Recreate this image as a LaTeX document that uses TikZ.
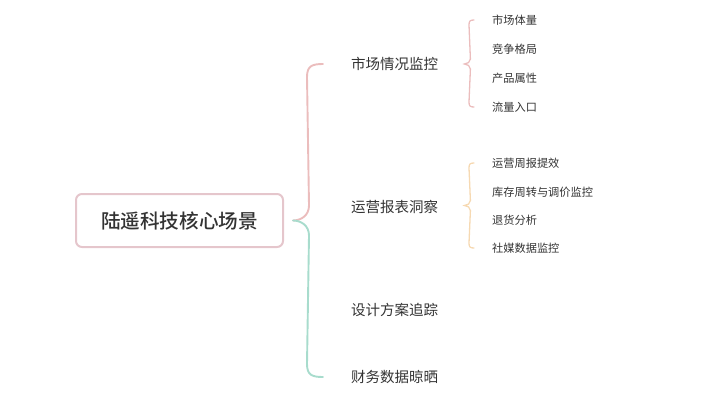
\documentclass[tikz,border=0pt]{standalone}
\usepackage{fontspec}
\newfontfamily\cjk{Noto Sans CJK SC}
\newfontfamily\cjkmed{Noto Sans CJK SC Medium}
\usetikzlibrary{calc}
\definecolor{txt}{HTML}{333333}
\definecolor{rootb}{HTML}{E5C6CC}
\definecolor{pinkb}{HTML}{EBBDBD}
\definecolor{greenb}{HTML}{A8DCCD}
\definecolor{orangeb}{HTML}{F6D9B2}
\tikzset{
  rootbox/.style={draw=rootb, line width=2pt, rounded corners=6pt, minimum width=207pt, minimum height=53pt, inner sep=0pt, text=txt, font=\cjkmed\fontsize{19.6}{22}\selectfont},
  lvone/.style={anchor=west, inner sep=0pt, text=txt, font=\cjk\fontsize{14.5}{17}\selectfont},
  leaf/.style={anchor=west, inner sep=0pt, text=txt, font=\cjk\fontsize{11.2}{13}\selectfont},
  mainbrace/.style={line width=1.9pt, line cap=round},
  subbrace/.style={line width=1.3pt, line cap=round},
}
\begin{document}
\begin{tikzpicture}[x=1pt, y=-1pt]
\useasboundingbox (0,0) rectangle (706,418);
\node[rootbox] (root) at (179.5,220.5) {陆遥科技核心场景};
\node[lvone] (a) at (351,64) {市场情况监控};
\node[lvone] (b) at (351,207) {运营报表洞察};
\node[lvone] (c) at (351,310) {设计方案追踪};
\node[lvone] (d) at (351,377) {财务数据晾晒};
\node[leaf] (a1) at (492,20) {市场体量};
\node[leaf] (a2) at (492,49) {竞争格局};
\node[leaf] (a3) at (492,78) {产品属性};
\node[leaf] (a4) at (492,107) {流量入口};
\node[leaf] (b1) at (492,163) {运营周报提效};
\node[leaf] (b2) at (492,192) {库存周转与调价监控};
\node[leaf] (b3) at (492,220) {退货分析};
\node[leaf] (b4) at (492,248) {社媒数据监控};
% main brace
\coordinate (tip) at ($(root.east)+(9,0)$);
\coordinate (ta) at ($(a.west)+(-28,0)$);
\coordinate (td) at ($(d.west)+(-28,0)$);
\draw[mainbrace, draw=pinkb] (ta) .. controls ++(-11,0) and ++(0,-11) .. ++(-16,13)
  -- ($(tip)+(16,-15)$) .. controls ++(0,10) and ++(8,0) .. (tip);
\draw[mainbrace, draw=greenb] (tip) .. controls ++(8,0) and ++(0,-10) .. ++(16,15)
  -- ($(td)+(-16,-13)$) .. controls ++(0,11) and ++(-11,0) .. (td);
% sub braces
\coordinate (sa) at ($(a.east)+(26,0)$);
\coordinate (sa1) at ($(a1.west)+(-18,0)$);
\coordinate (sa4) at ($(a4.west)+(-18,0)$);
\draw[subbrace, draw=pinkb] (sa1) .. controls ++(-4,0) and ++(0,-4) .. ++(-5,5)
  -- ($(sa)+(6,-5)$) .. controls ++(0,3) and ++(3,0) .. (sa)
  .. controls ++(3,0) and ++(0,-3) .. ++(6,5)
  -- ($(sa4)+(-5,-5)$) .. controls ++(0,4) and ++(-4,0) .. (sa4);
\coordinate (sb) at ($(b.east)+(26,-1.5)$);
\coordinate (sb1) at ($(b1.west)+(-18,0)$);
\coordinate (sb4) at ($(b4.west)+(-18,0)$);
\draw[subbrace, draw=orangeb] (sb1) .. controls ++(-4,0) and ++(0,-4) .. ++(-5,5)
  -- ($(sb)+(6,-5)$) .. controls ++(0,3) and ++(3,0) .. (sb)
  .. controls ++(3,0) and ++(0,-3) .. ++(6,5)
  -- ($(sb4)+(-5,-5)$) .. controls ++(0,4) and ++(-4,0) .. (sb4);
\end{tikzpicture}
\end{document}
